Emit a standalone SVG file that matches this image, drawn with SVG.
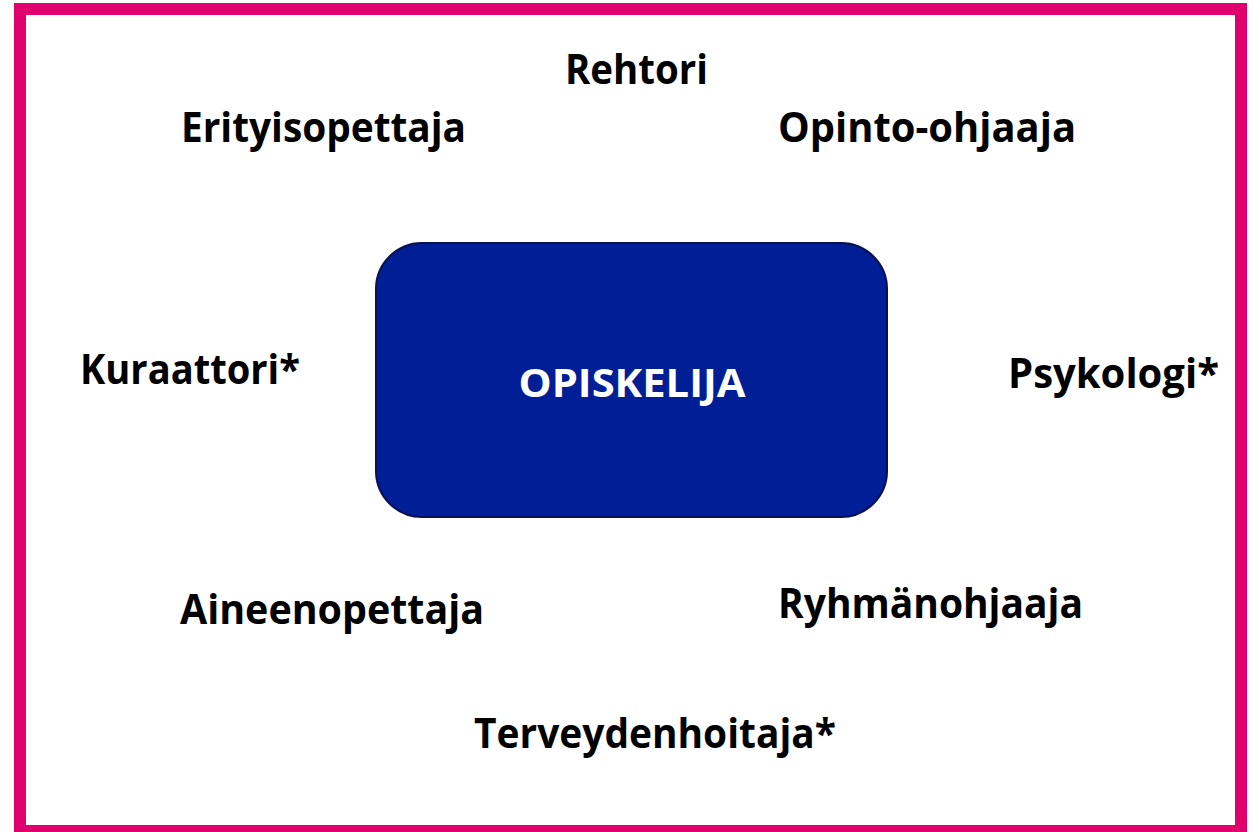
<svg xmlns="http://www.w3.org/2000/svg" width="1253" height="832" viewBox="0 0 1253 832">
<style>
.lbl{font-family:"Open Sans","Noto Sans","Liberation Sans",sans-serif;font-weight:700;font-size:42px;fill:#000}
.ctr{font-family:"Open Sans","Noto Sans","Liberation Sans",sans-serif;font-weight:700;font-size:40px;fill:#fff}
</style>
<rect x="0" y="0" width="1253" height="832" fill="#fff"/>
<rect x="20" y="9" width="1221" height="822" fill="none" stroke="#E0006E" stroke-width="12"/>
<g id="opiskelija">
<rect x="376" y="243" width="511" height="274" rx="46" ry="46" fill="#001E96" stroke="#0A1050" stroke-width="2"/>
<text class="ctr" x="632" y="397" text-anchor="middle" textLength="227" lengthAdjust="spacingAndGlyphs">OPISKELIJA</text>
</g>
<g id="rehtori"><text class="lbl" x="565" y="84" textLength="143" lengthAdjust="spacingAndGlyphs">Rehtori</text></g>
<g id="erityisopettaja"><text class="lbl" x="181" y="142" textLength="285" lengthAdjust="spacingAndGlyphs">Erityisopettaja</text></g>
<g id="opinto-ohjaaja"><text class="lbl" x="778" y="142" textLength="298" lengthAdjust="spacingAndGlyphs">Opinto-ohjaaja</text></g>
<g id="kuraattori"><text class="lbl" x="80" y="384" textLength="220" lengthAdjust="spacingAndGlyphs">Kuraattori*</text></g>
<g id="psykologi"><text class="lbl" x="1008" y="388" textLength="211" lengthAdjust="spacingAndGlyphs">Psykologi*</text></g>
<g id="aineenopettaja"><text class="lbl" x="180" y="624" textLength="304" lengthAdjust="spacingAndGlyphs">Aineenopettaja</text></g>
<g id="ryhmanohjaaja"><text class="lbl" x="778" y="618" textLength="305" lengthAdjust="spacingAndGlyphs">Ryhmänohjaaja</text></g>
<g id="terveydenhoitaja"><text class="lbl" x="474" y="748" textLength="362" lengthAdjust="spacingAndGlyphs">Terveydenhoitaja*</text></g>
<g id="connectors"></g>
</svg>
